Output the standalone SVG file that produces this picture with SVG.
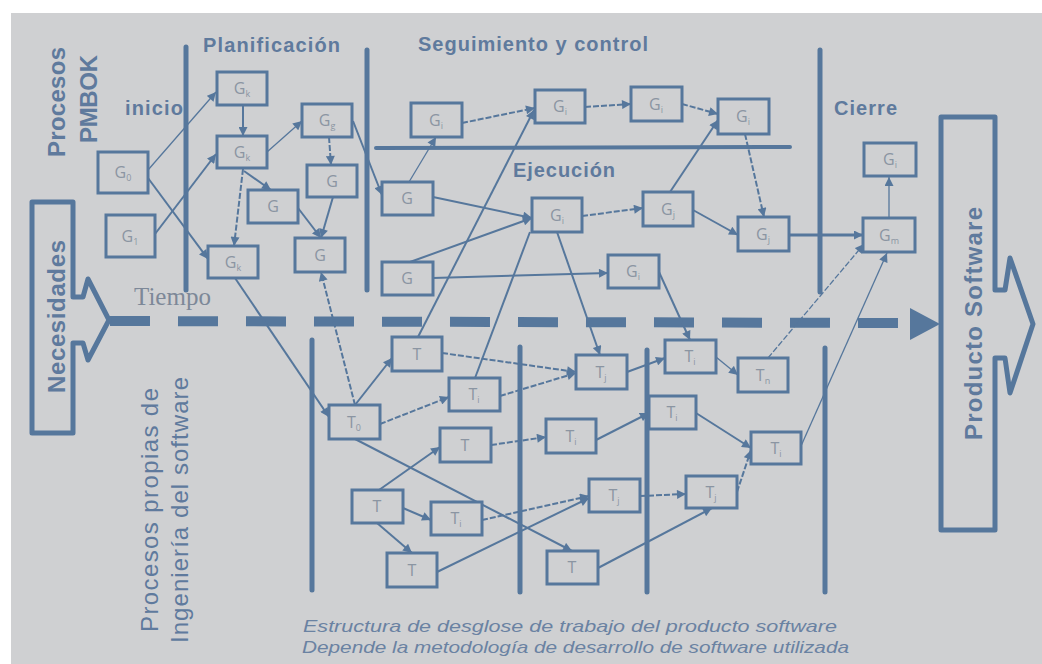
<svg xmlns="http://www.w3.org/2000/svg" width="1042" height="664" viewBox="0 0 1042 664">
  <defs>
    <style>
      .lbl { font-family: "Liberation Sans", Arial, sans-serif; font-weight: bold; fill: #5f7a9d; }
      .lbl2 { font-family: "Liberation Sans", Arial, sans-serif; fill: #5f7a9d; }
      .note { font-family: "Liberation Sans", Arial, sans-serif; font-style: italic; font-size: 17px; fill: #6a82a2; }
      .node rect { fill: #cfd0d2; stroke: #56779c; stroke-width: 3; }
      .node text { font-family: "Open Sans", "Liberation Sans", sans-serif; font-size: 16px; fill: #8b95a2; text-anchor: middle; }
      .node tspan { font-size: 9px; }
      .sep { stroke: #56779c; stroke-width: 5; stroke-linecap: round; fill: none; }
      .c { stroke: #56779c; stroke-width: 2; fill: none; marker-end: url(#ah); }
      .t { stroke-width: 1.3; }
      .d { stroke-dasharray: 6 2; }
      .n { marker-end: none; }
    </style>
    <marker id="ah" viewBox="0 0 10 10" refX="10" refY="5" markerWidth="10" markerHeight="9" markerUnits="userSpaceOnUse" orient="auto">
      <path d="M0,0 L10,5 L0,10 z" fill="#56779c"/>
    </marker>
  </defs>

  <!-- page -->
  <rect x="0" y="0" width="1042" height="664" fill="#ffffff"/>
  <rect x="11" y="13" width="1031" height="651" fill="#cfd0d2"/>

  <!-- phase separators -->
  <g id="separators">
    <line class="sep" x1="186" y1="47" x2="186" y2="290"/>
    <line class="sep" x1="367" y1="50" x2="367" y2="290"/>
    <line class="sep" x1="820" y1="50" x2="820" y2="292"/>
    <line class="sep" x1="376" y1="148" x2="790" y2="147" style="stroke-width:4"/>
    <line class="sep" x1="312" y1="340" x2="312" y2="590"/>
    <line class="sep" x1="520" y1="347" x2="520" y2="592"/>
    <line class="sep" x1="647" y1="350" x2="647" y2="592"/>
    <line class="sep" x1="825" y1="348" x2="825" y2="592"/>
  </g>

  <!-- time axis -->
  <g id="timeline">
    <line x1="110" y1="321" x2="902" y2="323" stroke="#56779c" stroke-width="10" stroke-dasharray="40 28"/>
    <polygon points="910,308 940,324 910,340" fill="#56779c"/>
    <text x="134" y="305" font-family="'Liberation Serif', 'Times New Roman', serif" font-size="25" fill="#7d8898">Tiempo</text>
  </g>

  <!-- input / output arrows -->
  <g id="necesidades">
    <path d="M32,202 L73,202 L73,297 L83,297 L88,279 L109,320 L88,360 L83,343 L73,343 L73,433 L32,433 Z" fill="none" stroke="#56779c" stroke-width="5" stroke-linejoin="round"/>
    <text class="lbl" font-size="24" textLength="153" transform="translate(65,393) rotate(-90)">Necesidades</text>
  </g>
  <g id="producto">
    <path d="M941,117 L995,117 L995,290 L1005,290 L1010,258 L1033,324 L1010,393 L1005,358 L995,358 L995,530 L941,530 Z" fill="none" stroke="#56779c" stroke-width="5" stroke-linejoin="round"/>
    <text class="lbl" font-size="24" textLength="233" transform="translate(982,440) rotate(-90)">Producto Software</text>
  </g>

  <!-- section labels -->
  <g id="labels">
    <text class="lbl" font-size="24" textLength="110" transform="translate(65,157) rotate(-90)">Procesos</text>
    <text class="lbl" font-size="24" textLength="88" transform="translate(97,143) rotate(-90)">PMBOK</text>
    <text class="lbl" font-size="20" x="125" y="115" textLength="58">inicio</text>
    <text class="lbl" font-size="20" x="203" y="52" textLength="137">Planificación</text>
    <text class="lbl" font-size="20" x="418" y="51" textLength="230">Seguimiento y control</text>
    <text class="lbl" font-size="20" x="513" y="177" textLength="102">Ejecución</text>
    <text class="lbl" font-size="20" x="834" y="115" textLength="63">Cierre</text>
    <text class="lbl2" font-size="24" textLength="244" transform="translate(158,632) rotate(-90)">Procesos propias de</text>
    <text class="lbl2" font-size="24" textLength="266" transform="translate(188,643) rotate(-90)">Ingeniería del software</text>
    <text class="note" x="303" y="632" textLength="534" lengthAdjust="spacingAndGlyphs">Estructura de desglose de trabajo del producto software</text>
    <text class="note" x="302" y="653" textLength="547" lengthAdjust="spacingAndGlyphs">Depende la metodología de desarrollo de software utilizada</text>
  </g>

  <!-- connectors -->
  <g id="connectors">
    <path class="c t" d="M148,170 L216,92"/>
    <path class="c" d="M148,178 L208,259"/>
    <path class="c" d="M155,234 L216,154"/>
    <path class="c" d="M243,105 L243,136"/>
    <path class="c d" d="M243,169 L234,246"/>
    <path class="c" d="M244,171 L271,190"/>
    <path class="c t" d="M267,152 L302,121"/>
    <path class="c d" d="M329,137 L331,165"/>
    <path class="c" d="M333,197 L321,238"/>
    <path class="c" d="M298,208 L321,238"/>
    <path class="c" d="M353,121 L382,195"/>
    <path class="c d" d="M355,405 L321,272"/>
    <path class="c" d="M235,278 L329,417"/>
    <path class="c t" d="M409,182 L436,137"/>
    <path class="c d" d="M462,123 L535,108"/>
    <path class="c d" d="M585,107 L631,104"/>
    <path class="c d" d="M682,104 L718,114"/>
    <path class="c d" d="M745,134 L764,217"/>
    <path class="c" d="M433,197 L532,218"/>
    <path class="c" d="M410,262 L532,218"/>
    <path class="c" d="M433,278 L608,273"/>
    <path class="c d" d="M582,216 L643,208"/>
    <path class="c" d="M670,192 L718,120"/>
    <path class="c" d="M693,210 L738,235"/>
    <path class="c" d="M789,235 L863,235" style="stroke-width:3"/>
    <path class="c t" d="M889,218 L889,177"/>
    <path class="c t d" d="M768,358 L864,244"/>
    <path class="c t" d="M801,446 L887,253"/>
    <path class="c" d="M418,337 L534,110"/>
    <path class="c n" d="M475,378 L530,232"/>
    <path class="c" d="M557,232 L600,355"/>
    <path class="c" d="M659,272 L690,340"/>
    <path class="c" d="M355,405 L392,358"/>
    <path class="c d" d="M380,424 L449,397"/>
    <path class="c" d="M355,439 L572,551"/>
    <path class="c d" d="M442,353 L576,372"/>
    <path class="c d" d="M500,396 L576,373"/>
    <path class="c" d="M627,372 L665,358"/>
    <path class="c t" d="M716,357 L738,375"/>
    <path class="c d" d="M491,445 L546,437"/>
    <path class="c" d="M596,440 L649,413"/>
    <path class="c" d="M696,413 L751,448"/>
    <path class="c" d="M379,490 L440,447"/>
    <path class="c" d="M403,508 L431,520"/>
    <path class="c" d="M377,523 L412,553"/>
    <path class="c d" d="M482,520 L589,496"/>
    <path class="c" d="M437,572 L589,498"/>
    <path class="c d" d="M640,496 L686,494"/>
    <path class="c" d="M598,568 L712,508"/>
    <path class="c d" d="M737,492 L751,450"/>
  </g>

  <!-- management process nodes -->
  <g id="n-g0" class="node"><rect x="98" y="152" width="50" height="41"/><text x="123" y="178">G<tspan dy="3">0</tspan></text></g>
  <g id="n-g1" class="node"><rect x="106" y="215" width="49" height="42"/><text x="130" y="242">G<tspan dy="3">1</tspan></text></g>
  <g id="n-gk1" class="node"><rect x="217" y="72" width="50" height="33"/><text x="242" y="94">G<tspan dy="3">k</tspan></text></g>
  <g id="n-gk2" class="node"><rect x="217" y="136" width="50" height="32"/><text x="242" y="158">G<tspan dy="3">k</tspan></text></g>
  <g id="n-gk3" class="node"><rect x="208" y="246" width="50" height="32"/><text x="233" y="268">G<tspan dy="3">k</tspan></text></g>
  <g id="n-gg" class="node"><rect x="302" y="104" width="50" height="33"/><text x="327" y="126">G<tspan dy="3">g</tspan></text></g>
  <g id="n-ga" class="node"><rect x="307" y="165" width="50" height="32"/><text x="332" y="187">G</text></g>
  <g id="n-gb" class="node"><rect x="248" y="190" width="50" height="33"/><text x="273" y="212">G</text></g>
  <g id="n-gc" class="node"><rect x="295" y="238" width="50" height="34"/><text x="320" y="261">G</text></g>
  <g id="n-gi1" class="node"><rect x="411" y="103" width="51" height="34"/><text x="436" y="126">G<tspan dy="3">i</tspan></text></g>
  <g id="n-gi2" class="node"><rect x="535" y="90" width="50" height="33"/><text x="560" y="112">G<tspan dy="3">i</tspan></text></g>
  <g id="n-gi3" class="node"><rect x="631" y="87" width="51" height="34"/><text x="656" y="110">G<tspan dy="3">i</tspan></text></g>
  <g id="n-gi4" class="node"><rect x="718" y="99" width="51" height="35"/><text x="743" y="122">G<tspan dy="3">i</tspan></text></g>
  <g id="n-gd" class="node"><rect x="382" y="182" width="51" height="33"/><text x="407" y="204">G</text></g>
  <g id="n-gi5" class="node"><rect x="532" y="198" width="50" height="34"/><text x="557" y="221">G<tspan dy="3">i</tspan></text></g>
  <g id="n-gj1" class="node"><rect x="643" y="192" width="50" height="34"/><text x="668" y="215">G<tspan dy="3">j</tspan></text></g>
  <g id="n-gj2" class="node"><rect x="738" y="217" width="51" height="34"/><text x="763" y="240">G<tspan dy="3">j</tspan></text></g>
  <g id="n-ge" class="node"><rect x="382" y="262" width="51" height="33"/><text x="407" y="284">G</text></g>
  <g id="n-gi6" class="node"><rect x="608" y="255" width="51" height="33"/><text x="633" y="277">G<tspan dy="3">i</tspan></text></g>
  <g id="n-gi7" class="node"><rect x="864" y="143" width="52" height="33"/><text x="890" y="165">G<tspan dy="3">i</tspan></text></g>
  <g id="n-gm" class="node"><rect x="863" y="218" width="52" height="34"/><text x="889" y="241">G<tspan dy="3">m</tspan></text></g>

  <!-- software engineering task nodes -->
  <g id="n-t1" class="node"><rect x="392" y="337" width="50" height="34"/><text x="417" y="360">T</text></g>
  <g id="n-t0" class="node"><rect x="329" y="405" width="51" height="34"/><text x="354" y="428">T<tspan dy="3">0</tspan></text></g>
  <g id="n-ti1" class="node"><rect x="449" y="378" width="51" height="33"/><text x="474" y="400">T<tspan dy="3">i</tspan></text></g>
  <g id="n-t2" class="node"><rect x="440" y="428" width="51" height="34"/><text x="465" y="451">T</text></g>
  <g id="n-t3" class="node"><rect x="352" y="490" width="51" height="33"/><text x="377" y="512">T</text></g>
  <g id="n-ti2" class="node"><rect x="431" y="502" width="51" height="33"/><text x="456" y="524">T<tspan dy="3">i</tspan></text></g>
  <g id="n-t4" class="node"><rect x="387" y="553" width="50" height="34"/><text x="412" y="576">T</text></g>
  <g id="n-tj1" class="node"><rect x="576" y="355" width="51" height="34"/><text x="601" y="378">T<tspan dy="3">j</tspan></text></g>
  <g id="n-ti3" class="node"><rect x="665" y="340" width="51" height="33"/><text x="690" y="362">T<tspan dy="3">i</tspan></text></g>
  <g id="n-tn" class="node"><rect x="738" y="358" width="50" height="34"/><text x="763" y="381">T<tspan dy="3">n</tspan></text></g>
  <g id="n-ti4" class="node"><rect x="546" y="419" width="50" height="34"/><text x="571" y="442">T<tspan dy="3">i</tspan></text></g>
  <g id="n-ti5" class="node"><rect x="649" y="396" width="47" height="33"/><text x="672" y="418">T<tspan dy="3">i</tspan></text></g>
  <g id="n-ti6" class="node"><rect x="751" y="432" width="50" height="32"/><text x="776" y="454">T<tspan dy="3">i</tspan></text></g>
  <g id="n-tj2" class="node"><rect x="589" y="479" width="51" height="33"/><text x="614" y="501">T<tspan dy="3">j</tspan></text></g>
  <g id="n-tj3" class="node"><rect x="686" y="476" width="51" height="32"/><text x="711" y="498">T<tspan dy="3">j</tspan></text></g>
  <g id="n-t5" class="node"><rect x="547" y="551" width="51" height="33"/><text x="572" y="573">T</text></g>
</svg>
